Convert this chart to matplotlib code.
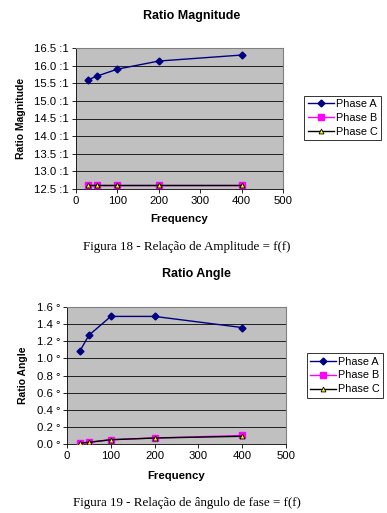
import matplotlib
matplotlib.use("Agg")
import matplotlib.pyplot as plt

plt.rcParams['font.family'] = ['Liberation Sans', 'DejaVu Sans']

freq = [30, 50, 100, 200, 400]

mag_a = [15.6, 15.7, 15.9, 16.13, 16.3]
mag_b = [12.6, 12.6, 12.6, 12.6, 12.6]
mag_c = [12.6, 12.6, 12.6, 12.6, 12.6]

ang_a = [1.09, 1.27, 1.49, 1.49, 1.36]
ang_b = [0.01, 0.02, 0.05, 0.07, 0.10]
ang_c = [0.01, 0.02, 0.05, 0.07, 0.09]

W, H = 387, 513
fig = plt.figure(figsize=(W / 100, H / 100), dpi=100)


def px_axes(l, t, r, b):
    return fig.add_axes([l / W, 1 - b / H, (r - l) / W, (b - t) / H])


def draw(ax, a, b, c, yticks, fmt, title, ylabel, caption, legbox, title_xy, xl_y, cap_y, yl_x):
    ax.set_facecolor('#c0c0c0')
    ax.plot(freq, a, color='#000080', lw=1, marker='D', ms=3.5,
            mfc='#000080', mec='#000080', label='Phase A', zorder=3)
    ax.plot(freq, b, color='#ff00ff', lw=1, marker='s', ms=4,
            mfc='#ff00ff', mec='#ff00ff', label='Phase B', zorder=3)
    ax.plot(freq, c, color='black', lw=1, marker='^', ms=3.5,
            mfc='#ffff00', mec='black', mew=0.6, label='Phase C', zorder=4)
    ax.set_xlim(0, 500)
    ax.set_ylim(yticks[0], yticks[-1])
    ax.set_xticks(range(0, 501, 100))
    ax.set_yticks(yticks)
    ax.set_yticklabels([fmt(v) for v in yticks])
    ax.yaxis.grid(True, color='#202020', lw=0.7)
    ax.set_axisbelow(True)
    ax.tick_params(labelsize=8.2, length=3, width=0.6, direction='out', pad=2)
    for s in ['top', 'right']:
        ax.spines[s].set_color('#808080')
        ax.spines[s].set_linewidth(0.8)
    for s in ['left', 'bottom']:
        ax.spines[s].set_linewidth(0.6)
    pos = ax.get_position()
    fig.text(title_xy[0] / W, 1 - title_xy[1] / H, title,
             ha='center', va='center', fontsize=9, fontweight='bold')
    fig.text(0.5 * (pos.x0 + pos.x1), 1 - xl_y / H, 'Frequency',
             ha='center', va='center', fontsize=8.2, fontweight='bold')
    fig.text(yl_x / W, 0.5 * (pos.y0 + pos.y1), ylabel,
             ha='center', va='center', rotation=90, fontsize=7.5, fontweight='bold')
    fig.text(187 / W, 1 - cap_y / H, caption, ha='center', va='center', fontsize=9.4,
             family=['Liberation Serif', 'DejaVu Serif'])
    l, t, r, bb = legbox
    leg = ax.legend(loc='center', bbox_to_anchor=(l / W, 1 - bb / H, (r - l) / W, (bb - t) / H),
                    bbox_transform=fig.transFigure, fontsize=7.8, frameon=True, fancybox=False,
                    edgecolor='black', borderpad=0.3, handlelength=2.4, labelspacing=0.35,
                    handletextpad=0.2, borderaxespad=0)
    leg.get_frame().set_linewidth(0.7)


ax1 = px_axes(76, 48, 283, 189)
draw(ax1, mag_a, mag_b, mag_c, [12.5, 13.0, 13.5, 14.0, 14.5, 15.0, 15.5, 16.0, 16.5],
     lambda v: f'{v:.1f} :1', 'Ratio Magnitude', 'Ratio Magnitude',
     'Figura 18 - Relação de Amplitude = f(f)', (304, 95, 381, 141), (192, 16), 219, 247, 21)

ax2 = px_axes(67, 307, 286, 444)
draw(ax2, ang_a, ang_b, ang_c, [0.0, 0.2, 0.4, 0.6, 0.8, 1.0, 1.2, 1.4, 1.6],
     lambda v: f'{v:.1f} °', 'Ratio Angle', 'Ratio Angle',
     'Figura 19 - Relação de ângulo de fase = f(f)', (307, 352, 383, 399), (196, 274), 476, 503, 23)

fig.savefig('out.png', dpi=100)
